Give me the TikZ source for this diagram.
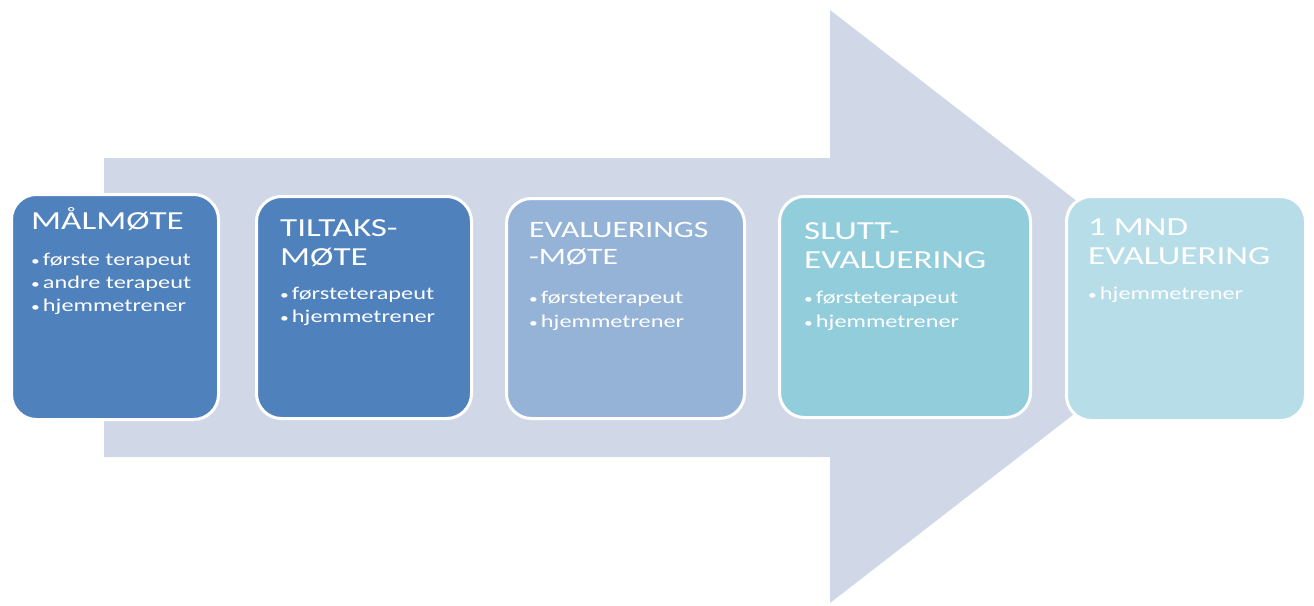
\documentclass[tikz,border=0pt]{standalone}
\usepackage{fontspec}
\newfontfamily\boxfont[FakeStretch=1.35]{Carlito}
\definecolor{arrowfill}{HTML}{D0D8E8}
\definecolor{stepA}{HTML}{4F81BD}
\definecolor{stepB}{HTML}{95B3D7}
\definecolor{stepC}{HTML}{92CDDC}
\definecolor{stepD}{HTML}{B7DEE8}
% small list bullet followed by a short gap
\newcommand{\listdot}{{\fontsize{13}{13}\selectfont •}\hspace{3pt}}
\tikzset{
  stagebox/.style={rectangle, rounded corners=25pt, draw=white, line width=3pt, inner sep=0pt},
  headline/.style={anchor=base west, inner sep=0pt, text=white, font=\boxfont\fontsize{26}{31}\selectfont},
  headsmall/.style={headline, font=\boxfont\fontsize{23.5}{28}\selectfont},
  bulletline/.style={anchor=base west, inner sep=0pt, text=white, font=\boxfont\fontsize{18}{23}\selectfont},
}
\begin{document}
\begin{tikzpicture}[x=1pt, y=-1pt]
\useasboundingbox (0,0) rectangle (1314,605);
% big process arrow in the background
\fill[arrowfill] (104,158) -- (830,158) -- (830,10) -- (1213,306.5)
  -- (830,603) -- (830,457) -- (104,457) -- cycle;

% stage boxes
\node[stagebox, fill=stepA, minimum width=207pt, minimum height=225pt] (s1) at (115,307) {};
\node[stagebox, fill=stepA, minimum width=215pt, minimum height=222pt] (s2) at (364,307.5) {};
\node[stagebox, fill=stepB, minimum width=238pt, minimum height=220pt] (s3) at (625.5,308.5) {};
\node[stagebox, fill=stepC, minimum width=251pt, minimum height=221pt] (s4) at (905,307) {};
\node[stagebox, fill=stepD, minimum width=239pt, minimum height=224pt] (s5) at (1186,308.5) {};

% stage 1
\node[headline] (h1a) at (31,229) {MÅLMØTE};
\node[bulletline] (b1a) at (31,265) {\listdot første terapeut};
\node[bulletline] (b1b) at (31,288) {\listdot andre terapeut};
\node[bulletline] (b1c) at (31,311) {\listdot hjemmetrener};

% stage 2
\node[headline] (h2a) at (280,236) {TILTAKS-};
\node[headline] (h2b) at (280,265) {MØTE};
\node[bulletline] (b2a) at (280,299) {\listdot førsteterapeut};
\node[bulletline] (b2b) at (280,322) {\listdot hjemmetrener};

% stage 3
\node[headsmall] (h3a) at (529,237) {EVALUERINGS};
\node[headsmall] (h3b) at (529,264) {-MØTE};
\node[bulletline] (b3a) at (529,303) {\listdot førsteterapeut};
\node[bulletline] (b3b) at (529,327) {\listdot hjemmetrener};

% stage 4
\node[headline] (h4a) at (804,239) {SLUTT-};
\node[headline] (h4b) at (804,268) {EVALUERING};
\node[bulletline] (b4a) at (804,303) {\listdot førsteterapeut};
\node[bulletline] (b4b) at (804,327) {\listdot hjemmetrener};

% stage 5
\node[headline] (h5a) at (1088,235) {1 MND};
\node[headline] (h5b) at (1088,264) {EVALUERING};
\node[bulletline] (b5a) at (1088,299) {\listdot hjemmetrener};
\end{tikzpicture}
\end{document}
